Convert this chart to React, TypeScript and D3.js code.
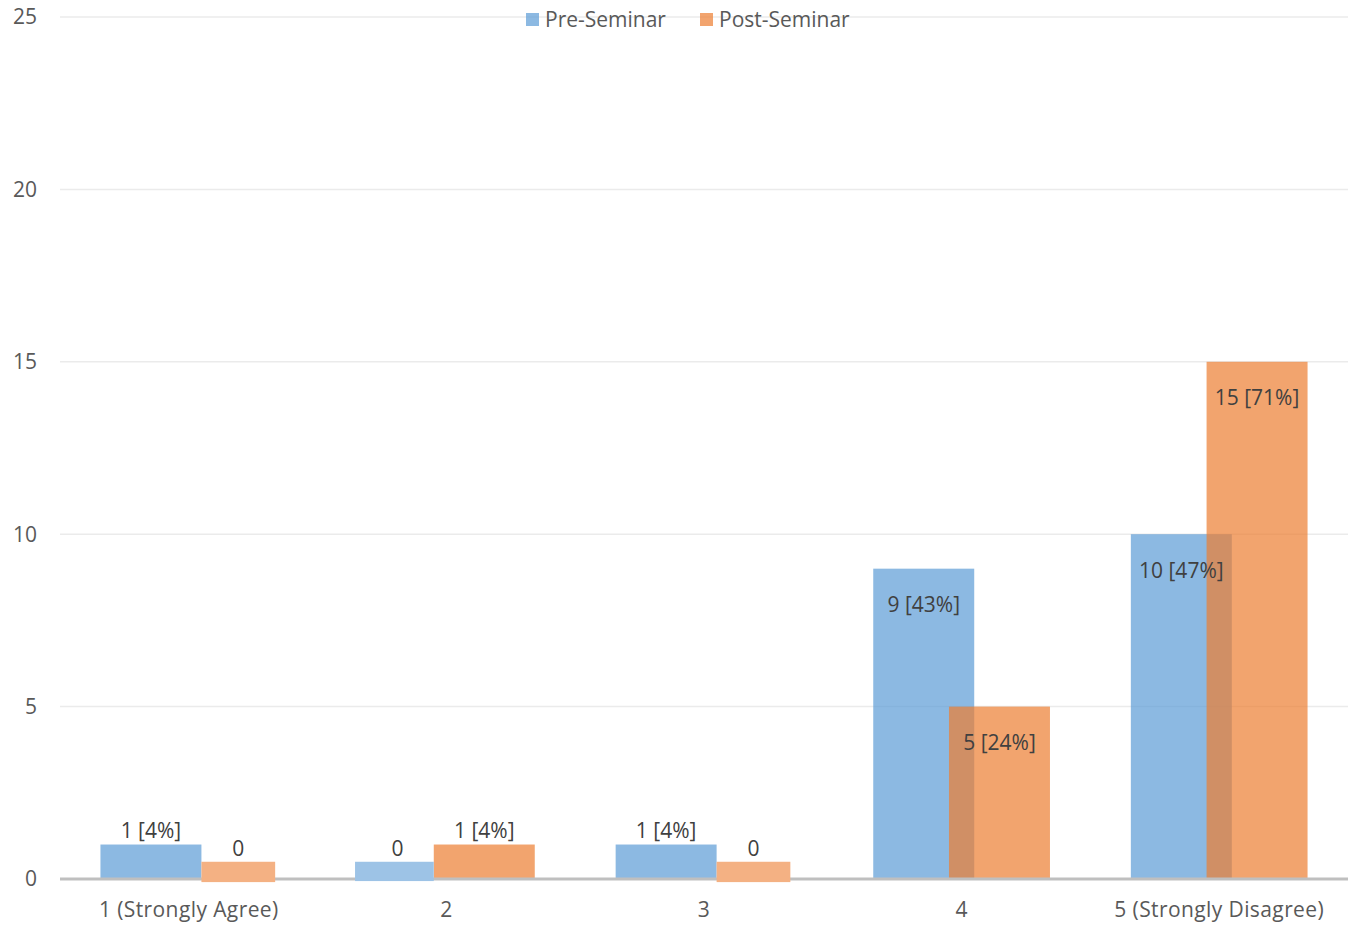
import React, { useRef, useEffect } from "react";
import * as d3 from "d3";

const categories = ["1 (Strongly Agree)", "2", "3", "4", "5 (Strongly Disagree)"];
const preValues = [1, 0, 1, 9, 10];
const postValues = [0, 1, 0, 5, 15];
const preLabels = ["1 [4%]", "0", "1 [4%]", "9 [43%]", "10 [47%]"];
const postLabels = ["0", "1 [4%]", "0", "5 [24%]", "15 [71%]"];
const yTicks = [0, 5, 10, 15, 20, 25];
const seriesNames = ["Pre-Seminar", "Post-Seminar"];

const W = 1358;
const H = 926;
const FONT = "'Open Sans', sans-serif";
const TEXT = "#595959";
const BLUE = "#5B9BD5";
const ORANGE = "#ED7D31";

const App: React.FC = () => {
    const svgRef = useRef<SVGSVGElement | null>(null);

    useEffect(() => {
        const svg = d3.select(svgRef.current);
        svg.selectAll("*").remove();

        const left = 60;
        const right = 1348;
        const top = 17;
        const bottom = 879;

        const x = d3.scaleBand<string>().domain(categories).range([left, right]);
        const y = d3.scaleLinear().domain([0, 25]).range([bottom, top]);

        const bw = x.bandwidth() * 0.392;
        const shift = bw * 0.75;
        const groupW = bw + shift;
        const blueX = (c: string) => x(c)! + x.bandwidth() / 2 - groupW / 2;
        const orangeX = (c: string) => blueX(c) + shift;

        // gridlines
        svg.append("g")
            .selectAll("line")
            .data(yTicks.filter((t) => t > 0))
            .join("line")
            .attr("x1", left)
            .attr("x2", right)
            .attr("y1", (d) => y(d))
            .attr("y2", (d) => y(d))
            .attr("stroke", "#ebebeb")
            .attr("stroke-width", 1.5);

        // y tick labels
        svg.append("g")
            .selectAll("text")
            .data(yTicks)
            .join("text")
            .attr("x", 37)
            .attr("y", (d) => y(d))
            .attr("dy", "0.35em")
            .attr("text-anchor", "end")
            .attr("font-family", FONT)
            .attr("font-size", 21)
            .attr("fill", TEXT)
            .text((d) => d);

        const bars = svg.append("g");

        bars.selectAll("rect.pre")
            .data(categories.filter((_, i) => preValues[i] > 0))
            .join("rect")
            .attr("class", "pre")
            .attr("x", (c) => blueX(c))
            .attr("y", (c) => y(preValues[categories.indexOf(c)]))
            .attr("width", bw)
            .attr("height", (c) => bottom - y(preValues[categories.indexOf(c)]))
            .attr("fill", BLUE)
            .attr("fill-opacity", 0.7);

        bars.selectAll("rect.post")
            .data(categories.filter((_, i) => postValues[i] > 0))
            .join("rect")
            .attr("class", "post")
            .attr("x", (c) => orangeX(c))
            .attr("y", (c) => y(postValues[categories.indexOf(c)]))
            .attr("width", bw)
            .attr("height", (c) => bottom - y(postValues[categories.indexOf(c)]))
            .attr("fill", ORANGE)
            .attr("fill-opacity", 0.7);

        // baseline
        svg.append("line")
            .attr("x1", left)
            .attr("x2", right)
            .attr("y1", bottom)
            .attr("y2", bottom)
            .attr("stroke", "#bfbfbf")
            .attr("stroke-width", 3);

        // zero placeholders, drawn over the axis line
        const zeroMid: { pre: number[]; post: number[] } = { pre: [], post: [] };
        categories.forEach((c, i) => {
            if (preValues[i] === 0) {
                const x0 = blueX(c) - 3;
                const x1 = orangeX(c);
                zeroMid.pre[i] = (x0 + x1) / 2 + 3;
                svg.append("rect")
                    .attr("x", x0)
                    .attr("y", y(0.5))
                    .attr("width", x1 - x0)
                    .attr("height", y(-0.06) - y(0.5))
                    .attr("fill", "#9dc3e6");
            }
            if (postValues[i] === 0) {
                const x0 = blueX(c) + bw;
                const x1 = orangeX(c) + bw - 2;
                zeroMid.post[i] = (x0 + x1) / 2;
                svg.append("rect")
                    .attr("x", x0)
                    .attr("y", y(0.5))
                    .attr("width", x1 - x0)
                    .attr("height", y(-0.09) - y(0.5))
                    .attr("fill", "#f4b183");
            }
        });

        // data labels
        const labelY = (v: number) => {
            if (v === 0) return y(0.5) - 13;
            if (v <= 2) return y(v) - 14;
            return y(v) + 36;
        };
        const labels = svg.append("g")
            .attr("font-family", FONT)
            .attr("font-size", 21)
            .attr("fill", "#404040")
            .attr("text-anchor", "middle");
        categories.forEach((c, i) => {
            labels.append("text")
                .attr("x", preValues[i] === 0 ? zeroMid.pre[i] : blueX(c) + bw / 2)
                .attr("y", labelY(preValues[i]))
                .attr("dy", "0.35em")
                .text(preLabels[i]);
            labels.append("text")
                .attr("x", postValues[i] === 0 ? zeroMid.post[i] : orangeX(c) + bw / 2)
                .attr("y", labelY(postValues[i]))
                .attr("dy", "0.35em")
                .text(postLabels[i]);
        });

        // x labels
        svg.append("g")
            .selectAll("text")
            .data(categories)
            .join("text")
            .attr("x", (c) => x(c)! + x.bandwidth() / 2)
            .attr("y", 910)
            .attr("dy", "0.35em")
            .attr("text-anchor", "middle")
            .attr("font-family", FONT)
            .attr("font-size", 21)
            .attr("letter-spacing", 0.4)
            .attr("fill", TEXT)
            .text((d) => d);

        // legend
        const legend = svg.append("g").attr("font-family", FONT).attr("font-size", 21).attr("fill", TEXT);
        const legendX = [526, 700];
        [BLUE, ORANGE].forEach((col, i) => {
            legend.append("rect")
                .attr("x", legendX[i])
                .attr("y", 13)
                .attr("width", 13)
                .attr("height", 13)
                .attr("fill", col)
                .attr("fill-opacity", 0.7);
            legend.append("text")
                .attr("x", legendX[i] + 19)
                .attr("y", 20)
                .attr("dy", "0.35em")
                .text(seriesNames[i]);
        });
    }, []);

    return (
        <svg
            ref={svgRef}
            width={W}
            height={H}
            style={{ position: "absolute", left: 0, top: 0, background: "#fff" }}
        ></svg>
    );
};

export default App;
